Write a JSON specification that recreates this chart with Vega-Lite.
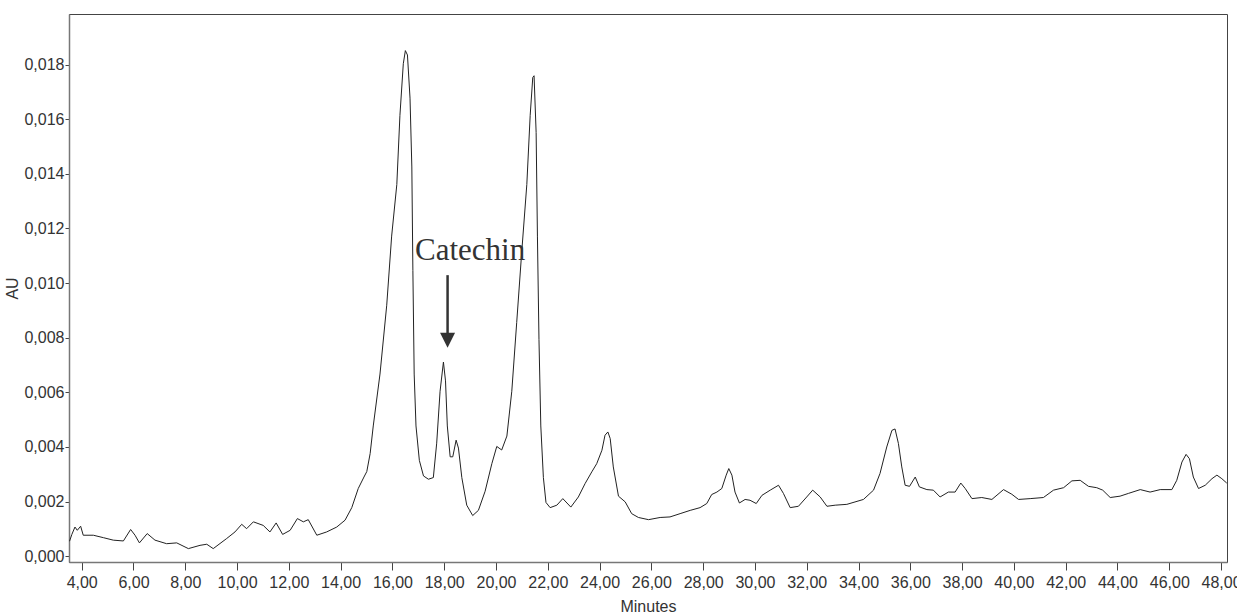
{
  "$schema": "https://vega.github.io/schema/vega-lite/v6.json",
  "autosize": {"type": "none"},
  "padding": {"left": 69, "top": 14, "right": 10, "bottom": 54},
  "width": 1158,
  "height": 548,
  "background": "white",
  "config": {
    "view": {"stroke": "#444", "strokeWidth": 1},
    "axis": {
      "labelFont": "Liberation Sans",
      "labelFontSize": 16,
      "labelColor": "#333",
      "titleFont": "Liberation Sans",
      "titleFontSize": 16,
      "titleFontWeight": "normal",
      "titleColor": "#333",
      "domainColor": "#777",
      "domainWidth": 1.5,
      "tickColor": "#444",
      "grid": false
    }
  },
  "datasets": {
    "trace": [
      {"t": 3.53, "au": 0.00055}, {"t": 3.62, "au": 0.0008}, {"t": 3.74, "au": 0.00107}, {"t": 3.83, "au": 0.00095},
      {"t": 3.96, "au": 0.0011}, {"t": 4.06, "au": 0.00077}, {"t": 4.45, "au": 0.00077}, {"t": 4.84, "au": 0.00068},
      {"t": 5.22, "au": 0.00059}, {"t": 5.61, "au": 0.00056}, {"t": 5.89, "au": 0.00098}, {"t": 6.06, "au": 0.00077},
      {"t": 6.23, "au": 0.00049}, {"t": 6.53, "au": 0.00083}, {"t": 6.83, "au": 0.00059}, {"t": 7.28, "au": 0.00046},
      {"t": 7.67, "au": 0.00049}, {"t": 8.12, "au": 0.00028}, {"t": 8.57, "au": 0.0004}, {"t": 8.83, "au": 0.00044},
      {"t": 9.08, "au": 0.00028}, {"t": 9.6, "au": 0.00065}, {"t": 9.92, "au": 0.00089}, {"t": 10.18, "au": 0.00117},
      {"t": 10.37, "au": 0.00101}, {"t": 10.63, "au": 0.00126}, {"t": 11.01, "au": 0.00113}, {"t": 11.27, "au": 0.00089},
      {"t": 11.51, "au": 0.00122}, {"t": 11.76, "au": 0.0008}, {"t": 12.05, "au": 0.00095}, {"t": 12.33, "au": 0.00138},
      {"t": 12.56, "au": 0.00126}, {"t": 12.75, "au": 0.00134}, {"t": 13.08, "au": 0.00077}, {"t": 13.46, "au": 0.00089},
      {"t": 13.85, "au": 0.00107}, {"t": 14.17, "au": 0.00132}, {"t": 14.43, "au": 0.00178}, {"t": 14.68, "au": 0.00248},
      {"t": 14.9, "au": 0.0029}, {"t": 15.01, "au": 0.0031}, {"t": 15.14, "au": 0.00376}, {"t": 15.26, "au": 0.00477},
      {"t": 15.52, "au": 0.00667}, {"t": 15.78, "au": 0.00919}, {"t": 15.97, "au": 0.01172}, {"t": 16.17, "au": 0.01361},
      {"t": 16.29, "au": 0.01614}, {"t": 16.42, "au": 0.01803}, {"t": 16.5, "au": 0.01851}, {"t": 16.58, "au": 0.01835},
      {"t": 16.68, "au": 0.01677}, {"t": 16.75, "au": 0.01425}, {"t": 16.79, "au": 0.01046}, {"t": 16.84, "au": 0.00667},
      {"t": 16.91, "au": 0.00477}, {"t": 17.04, "au": 0.00351}, {"t": 17.2, "au": 0.00294}, {"t": 17.39, "au": 0.00282},
      {"t": 17.58, "au": 0.00288}, {"t": 17.71, "au": 0.00414}, {"t": 17.84, "au": 0.00604}, {"t": 17.97, "au": 0.00711},
      {"t": 18.05, "au": 0.00642}, {"t": 18.12, "au": 0.00477}, {"t": 18.23, "au": 0.00364}, {"t": 18.33, "au": 0.00364},
      {"t": 18.46, "au": 0.00425}, {"t": 18.55, "au": 0.00396}, {"t": 18.68, "au": 0.00288}, {"t": 18.87, "au": 0.00187},
      {"t": 19.1, "au": 0.00149}, {"t": 19.32, "au": 0.00168}, {"t": 19.58, "au": 0.00238}, {"t": 19.84, "au": 0.00339},
      {"t": 20.03, "au": 0.00402}, {"t": 20.22, "au": 0.00389}, {"t": 20.42, "au": 0.0044}, {"t": 20.61, "au": 0.00604},
      {"t": 20.8, "au": 0.00856}, {"t": 20.99, "au": 0.01109}, {"t": 21.19, "au": 0.01361}, {"t": 21.32, "au": 0.01614},
      {"t": 21.42, "au": 0.01753}, {"t": 21.47, "au": 0.01759}, {"t": 21.55, "au": 0.01551}, {"t": 21.6, "au": 0.01172},
      {"t": 21.66, "au": 0.00793}, {"t": 21.73, "au": 0.00477}, {"t": 21.83, "au": 0.00288}, {"t": 21.93, "au": 0.00197},
      {"t": 22.09, "au": 0.00178}, {"t": 22.35, "au": 0.00187}, {"t": 22.58, "au": 0.00211}, {"t": 22.89, "au": 0.0018},
      {"t": 23.18, "au": 0.00217}, {"t": 23.44, "au": 0.00266}, {"t": 23.7, "au": 0.00309}, {"t": 23.89, "au": 0.00339},
      {"t": 24.09, "au": 0.00388}, {"t": 24.21, "au": 0.00443}, {"t": 24.32, "au": 0.00455}, {"t": 24.41, "au": 0.00431},
      {"t": 24.53, "au": 0.00327}, {"t": 24.73, "au": 0.0022}, {"t": 24.99, "au": 0.00199}, {"t": 25.24, "au": 0.00156},
      {"t": 25.5, "au": 0.00142}, {"t": 25.89, "au": 0.00134}, {"t": 26.34, "au": 0.00142}, {"t": 26.72, "au": 0.00144},
      {"t": 27.11, "au": 0.00156}, {"t": 27.5, "au": 0.00168}, {"t": 27.88, "au": 0.00178}, {"t": 28.14, "au": 0.00193},
      {"t": 28.33, "au": 0.00226}, {"t": 28.53, "au": 0.00235}, {"t": 28.72, "au": 0.00248}, {"t": 28.89, "au": 0.00297},
      {"t": 28.99, "au": 0.00321}, {"t": 29.11, "au": 0.00297}, {"t": 29.23, "au": 0.00235}, {"t": 29.4, "au": 0.00195},
      {"t": 29.62, "au": 0.00208}, {"t": 29.81, "au": 0.00205}, {"t": 30.05, "au": 0.00193}, {"t": 30.27, "au": 0.00223},
      {"t": 30.59, "au": 0.00242}, {"t": 30.91, "au": 0.0026}, {"t": 31.1, "au": 0.0023}, {"t": 31.36, "au": 0.00178},
      {"t": 31.68, "au": 0.00183}, {"t": 32.0, "au": 0.00217}, {"t": 32.23, "au": 0.00242}, {"t": 32.52, "au": 0.00217},
      {"t": 32.78, "au": 0.00183}, {"t": 33.1, "au": 0.00187}, {"t": 33.55, "au": 0.0019}, {"t": 34.19, "au": 0.00208},
      {"t": 34.58, "au": 0.00242}, {"t": 34.83, "au": 0.00303}, {"t": 35.09, "au": 0.004}, {"t": 35.29, "au": 0.00461},
      {"t": 35.41, "au": 0.00466}, {"t": 35.54, "au": 0.00413}, {"t": 35.67, "au": 0.00327}, {"t": 35.8, "au": 0.0026},
      {"t": 35.97, "au": 0.00256}, {"t": 36.19, "au": 0.0029}, {"t": 36.35, "au": 0.00254}, {"t": 36.64, "au": 0.00244},
      {"t": 36.89, "au": 0.00242}, {"t": 37.15, "au": 0.00217}, {"t": 37.47, "au": 0.00235}, {"t": 37.73, "au": 0.00235},
      {"t": 37.95, "au": 0.00268}, {"t": 38.12, "au": 0.00248}, {"t": 38.38, "au": 0.00211}, {"t": 38.76, "au": 0.00215},
      {"t": 39.15, "au": 0.00208}, {"t": 39.6, "au": 0.00244}, {"t": 39.92, "au": 0.00227}, {"t": 40.18, "au": 0.00208},
      {"t": 40.63, "au": 0.00211}, {"t": 41.14, "au": 0.00215}, {"t": 41.53, "au": 0.00242}, {"t": 41.92, "au": 0.00251},
      {"t": 42.24, "au": 0.00276}, {"t": 42.56, "au": 0.00278}, {"t": 42.88, "au": 0.00256}, {"t": 43.2, "au": 0.00251},
      {"t": 43.43, "au": 0.00242}, {"t": 43.72, "au": 0.00215}, {"t": 44.1, "au": 0.0022}, {"t": 44.42, "au": 0.0023},
      {"t": 44.88, "au": 0.00244}, {"t": 45.26, "au": 0.00235}, {"t": 45.65, "au": 0.00244}, {"t": 46.1, "au": 0.00244},
      {"t": 46.29, "au": 0.00278}, {"t": 46.49, "au": 0.00345}, {"t": 46.65, "au": 0.00373}, {"t": 46.78, "au": 0.00357},
      {"t": 46.93, "au": 0.0029}, {"t": 47.13, "au": 0.00248}, {"t": 47.39, "au": 0.0026}, {"t": 47.65, "au": 0.00284},
      {"t": 47.84, "au": 0.00297}, {"t": 48.03, "au": 0.00284}, {"t": 48.22, "au": 0.00268}
    ],
    "label": [{"t": 19.0, "au": 0.01084, "text": "Catechin"}],
    "arrow": [{"t": 18.13, "top": 0.01029, "base": 0.0081, "head": 0.00791}]
  },
  "layer": [
    {
      "data": {"name": "trace"},
      "mark": {"type": "line", "color": "#222", "strokeWidth": 1, "clip": true},
      "encoding": {
        "x": {
          "field": "t", "type": "quantitative",
          "scale": {"domain": [3.51, 48.23], "nice": false, "zero": false},
          "axis": {
            "title": "Minutes",
            "titlePadding": 8,
            "values": [4,4.5,5,5.5,6,6.5,7,7.5,8,8.5,9,9.5,10,10.5,11,11.5,12,12.5,13,13.5,14,14.5,15,15.5,16,16.5,17,17.5,18,18.5,19,19.5,20,20.5,21,21.5,22,22.5,23,23.5,24,24.5,25,25.5,26,26.5,27,27.5,28,28.5,29,29.5,30,30.5,31,31.5,32,32.5,33,33.5,34,34.5,35,35.5,36,36.5,37,37.5,38,38.5,39,39.5,40,40.5,41,41.5,42,42.5,43,43.5,44,44.5,45,45.5,46,46.5,47,47.5,48],
            "labelExpr": "datum.value % 2 == 0 ? replace(format(datum.value, '.2f'), '.', ',') : ''",
            "tickSize": {"condition": {"test": "datum.value % 2 == 0", "value": 8}, "value": 3},
            "labelPadding": 4,
            "labelOverlap": false,
            "labelFlush": false
          }
        },
        "y": {
          "field": "au", "type": "quantitative",
          "scale": {"domain": [-0.00021, 0.01985], "nice": false, "zero": false},
          "axis": {
            "title": "AU",
            "titlePadding": 3,
            "values": [0,0.0005,0.001,0.0015,0.002,0.0025,0.003,0.0035,0.004,0.0045,0.005,0.0055,0.006,0.0065,0.007,0.0075,0.008,0.0085,0.009,0.0095,0.01,0.0105,0.011,0.0115,0.012,0.0125,0.013,0.0135,0.014,0.0145,0.015,0.0155,0.016,0.0165,0.017,0.0175,0.018,0.0185,0.019,0.0195],
            "labelExpr": "abs(datum.value * 500 - round(datum.value * 500)) < 0.000001 ? replace(format(datum.value, '.3f'), '.', ',') : ''",
            "tickSize": {"condition": {"test": "abs(datum.value * 500 - round(datum.value * 500)) < 0.000001", "value": 4}, "value": 2.5},
            "labelPadding": 1,
            "labelOverlap": false,
            "labelFlush": false
          }
        }
      }
    },
    {
      "data": {"name": "label"},
      "mark": {"type": "text", "font": "Liberation Serif", "fontSize": 31, "color": "#333", "align": "center", "baseline": "alphabetic"},
      "encoding": {
        "x": {"field": "t", "type": "quantitative"},
        "y": {"field": "au", "type": "quantitative"},
        "text": {"field": "text"}
      }
    },
    {
      "data": {"name": "arrow"},
      "mark": {"type": "rule", "color": "#333", "strokeWidth": 2.5},
      "encoding": {
        "x": {"field": "t", "type": "quantitative"},
        "y": {"field": "top", "type": "quantitative"},
        "y2": {"field": "base"}
      }
    },
    {
      "data": {"name": "arrow"},
      "mark": {"type": "point", "shape": "M-1,-1L1,-1L0,1Z", "size": 225, "filled": true, "color": "#333", "opacity": 1, "strokeWidth": 0},
      "encoding": {
        "x": {"field": "t", "type": "quantitative"},
        "y": {"field": "head", "type": "quantitative"}
      }
    }
  ]
}
